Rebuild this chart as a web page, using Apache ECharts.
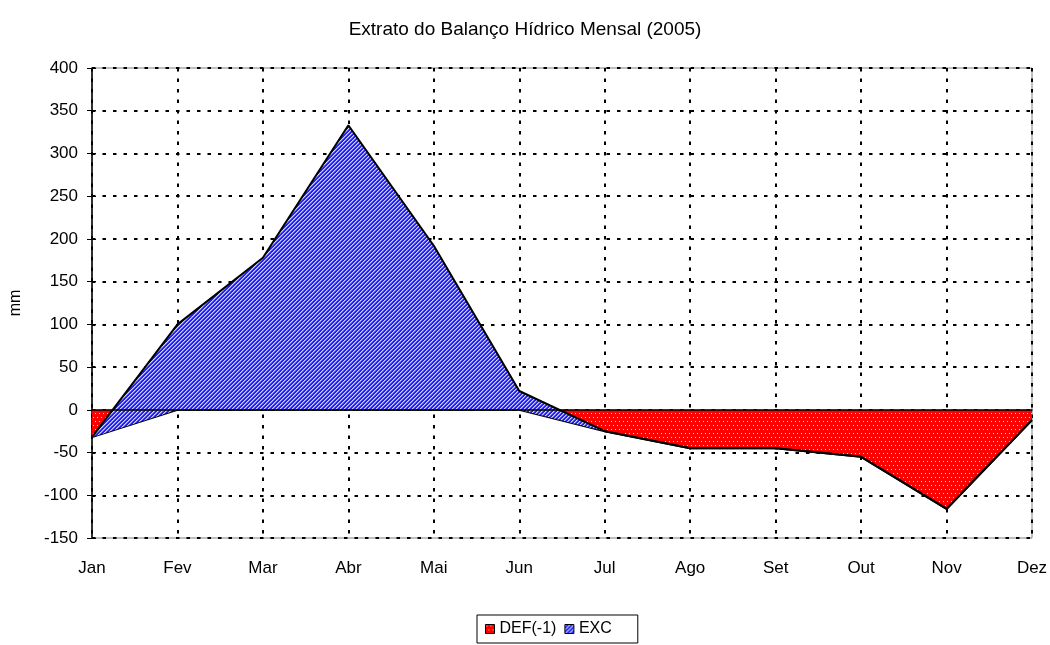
<!DOCTYPE html>
<html>
<head>
<meta charset="utf-8">
<script src="https://cdn.jsdelivr.net/npm/echarts@6/dist/echarts.min.js"></script>
<style>
html,body{margin:0;padding:0;background:#fff;}
#chart{width:1050px;height:645px;}
</style>
</head>
<body>
<div id="chart"></div>
<script>
// ---- data ----
const months = ['Jan','Fev','Mar','Abr','Mai','Jun','Jul','Ago','Set','Out','Nov','Dez'];
const defValues = [-32, 0, 0, 0, 0, 0, -25, -45, -45, -55, -116, -12];
const excValues = [0, 100, 178, 333, 192, 22, 0, 0, 0, 0, 0, 0];
const yTicks = { min: -150, max: 400, interval: 50 };
const titleText = 'Extrato do Balanço Hídrico Mensal (2005)';
const yName = 'mm';
const seriesNames = ['DEF(-1)', 'EXC'];

// ---- patterns ----
function makeRedPattern() {
  const c = document.createElement('canvas');
  c.width = 4; c.height = 8;
  const g = c.getContext('2d');
  g.fillStyle = '#ff0000'; g.fillRect(0, 0, 4, 8);
  g.fillStyle = '#ffc8c8';
  g.fillRect(1, 1, 1, 1);
  g.fillRect(3, 5, 1, 1);
  return c;
}
function makeBluePattern() {
  const c = document.createElement('canvas');
  c.width = 4; c.height = 4;
  const g = c.getContext('2d');
  for (let x = 0; x < 4; x++) {
    for (let y = 0; y < 4; y++) {
      const k = (x + y) % 4;
      g.fillStyle = k === 0 ? '#d0d0ff' : (k === 1 ? '#7878ff' : '#2020ff');
      g.fillRect(x, y, 1, 1);
    }
  }
  return c;
}
const redFill = { image: makeRedPattern(), repeat: 'repeat' };
const blueFill = { image: makeBluePattern(), repeat: 'repeat' };

const font = 'Liberation Sans, Arial, sans-serif';
const gridDash = { color: '#000', width: 2, type: [3.5, 7] };

const chart = echarts.init(document.getElementById('chart'), null, { renderer: 'canvas' });
chart.setOption({
  animation: false,
  backgroundColor: '#fff',
  textStyle: { fontFamily: font },
  title: {
    text: titleText,
    left: 'center',
    top: 15,
    textStyle: { fontFamily: font, fontSize: 19, fontWeight: 'normal', color: '#000' }
  },
  legend: {
    left: 477,
    top: 615,
    orient: 'horizontal',
    padding: [6, 26, 6, 8],
    itemGap: 8,
    itemWidth: 9,
    itemHeight: 9,
    borderColor: '#000',
    borderWidth: 1,
    textStyle: { fontFamily: font, fontSize: 16, color: '#000' },
    data: [
      { name: seriesNames[0], icon: 'rect', itemStyle: { color: redFill, borderColor: '#000', borderWidth: 1 } },
      { name: seriesNames[1], icon: 'rect', itemStyle: { color: blueFill, borderColor: '#000', borderWidth: 1 } }
    ]
  },
  grid: {
    left: 92, right: 18, top: 68, bottom: 107,
    containLabel: false,
    outerBoundsMode: 'none',
    show: true, borderColor: '#808080', borderWidth: 1, backgroundColor: 'transparent'
  },
  xAxis: [
    {
      type: 'category',
      data: months,
      boundaryGap: false,
      axisLine: { show: false, onZero: false },
      axisTick: { show: false },
      axisLabel: { color: '#000', fontSize: 17, fontFamily: font, margin: 22 },
      splitLine: { show: true, lineStyle: gridDash }
    },
    {
      type: 'category',
      data: months,
      boundaryGap: false,
      z: 5,
      axisLine: { show: true, onZero: true, lineStyle: { color: '#000', width: 1.5 } },
      axisTick: { show: false },
      axisLabel: { show: false },
      splitLine: { show: false }
    }
  ],
  yAxis: [
    {
      type: 'value',
      min: yTicks.min, max: yTicks.max, interval: yTicks.interval,
      name: yName,
      nameLocation: 'middle',
      nameRotate: 90,
      nameGap: 68,
      nameTextStyle: { color: '#000', fontSize: 16, fontFamily: font },
      axisLine: { show: true, lineStyle: { color: '#000', width: 1.5 } },
      axisTick: { show: true, length: 5, lineStyle: { color: '#000', width: 1 } },
      axisLabel: { color: '#000', fontSize: 17, fontFamily: font, margin: 14 },
      splitLine: { show: true, showMinLine: true, showMaxLine: true, lineStyle: gridDash }
    },
    {
      type: 'value',
      min: yTicks.min, max: yTicks.max, interval: yTicks.interval,
      offset: -940,
      axisLine: { show: false },
      axisTick: { show: true, inside: false, length: 4, lineStyle: { color: '#000', width: 1 } },
      axisLabel: { show: false },
      splitLine: { show: false }
    }
  ],
  series: [
    {
      name: seriesNames[0],
      type: 'line',
      stack: 'bal',
      stackStrategy: 'all',
      data: defValues,
      symbol: 'none',
      itemStyle: { color: redFill },
      lineStyle: { color: '#000', width: 2 },
      areaStyle: { color: redFill, opacity: 1 },
      z: 2
    },
    {
      name: seriesNames[1],
      type: 'line',
      stack: 'bal',
      stackStrategy: 'all',
      data: excValues,
      symbol: 'none',
      itemStyle: { color: blueFill },
      lineStyle: { color: '#000', width: 2 },
      areaStyle: { color: blueFill, opacity: 1 },
      z: 3
    }
  ]
});
</script>
</body>
</html>
